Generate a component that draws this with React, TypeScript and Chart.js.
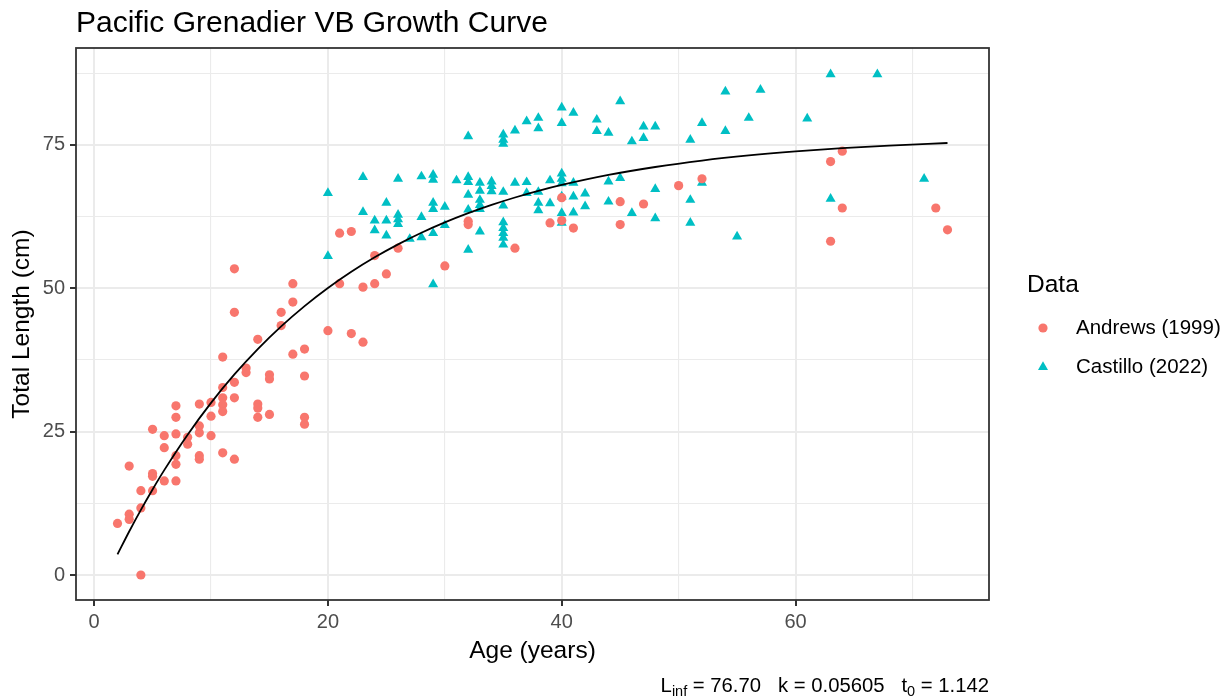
import React, { useEffect, useRef } from "react";
import { Chart, registerables } from "chart.js";

Chart.register(...registerables);

const FONT = '"Liberation Sans", Arial, Helvetica, sans-serif';

const titleText = "Pacific Grenadier VB Growth Curve";
const xAxisTitle = "Age (years)";
const yAxisTitle = "Total Length (cm)";
const legendTitle = "Data";
const seriesNames = ["Andrews (1999)", "Castillo (2022)"];
const seriesColors = ["#F8766D", "#00BFC4"];

// [age (years), total length (cm)]
const andrews: [number, number][] = [
  [2, 9.0],
  [3, 19.0], [3, 10.6], [3, 9.7],
  [4, 14.7], [4, 11.7], [4, 0],
  [5, 25.4], [5, 17.7], [5, 17.2], [5, 14.7],
  [6, 24.3], [6, 22.2], [6, 16.4],
  [7, 29.5], [7, 27.5], [7, 24.6], [7, 20.8], [7, 19.3], [7, 16.4],
  [8, 24.0], [8, 22.8],
  [9, 29.8], [9, 26.0], [9, 24.8], [9, 20.8], [9, 20.2],
  [10, 30.1], [10, 27.7], [10, 24.3],
  [11, 38.0], [11, 32.7], [11, 30.9], [11, 29.7], [11, 28.5], [11, 21.3],
  [12, 53.4], [12, 45.8], [12, 33.6], [12, 30.9], [12, 20.2],
  [13, 36.1], [13, 35.3],
  [14, 41.1], [14, 29.8], [14, 29.1], [14, 27.5],
  [15, 34.9], [15, 34.2], [15, 28.0],
  [16, 45.8], [16, 43.5],
  [17, 50.8], [17, 47.6], [17, 38.5],
  [18, 39.4], [18, 34.7], [18, 27.5], [18, 26.3],
  [20, 42.6],
  [21, 59.6], [21, 50.8],
  [22, 59.9], [22, 42.1],
  [23, 50.2], [23, 40.6],
  [24, 55.7], [24, 50.8],
  [25, 52.5],
  [26, 57.0],
  [30, 53.9],
  [32, 61.7], [32, 61.1],
  [36, 57.0],
  [39, 61.4],
  [40, 65.8], [40, 61.8],
  [41, 60.5],
  [45, 65.1], [45, 61.1],
  [47, 64.7],
  [50, 67.9],
  [52, 69.1],
  [63, 72.1], [63, 58.2],
  [64, 73.9], [64, 64.0],
  [72, 64.0],
  [73, 60.2],
];

const castillo: [number, number][] = [
  [20, 66.6], [20, 55.6],
  [23, 69.4], [23, 63.3],
  [24, 61.8], [24, 60.1],
  [25, 64.9], [25, 61.8], [25, 59.2],
  [26, 69.1], [26, 62.8], [26, 62.0], [26, 61.2],
  [27, 58.6],
  [28, 69.5], [28, 62.4], [28, 58.9],
  [29, 69.8], [29, 68.9], [29, 64.9], [29, 63.8], [29, 59.6], [29, 50.7],
  [30, 64.2], [30, 61.0],
  [31, 68.8],
  [32, 76.5], [32, 69.4], [32, 68.5], [32, 66.3], [32, 63.7], [32, 56.7],
  [33, 68.4], [33, 67.0], [33, 65.4], [33, 64.5], [33, 63.8], [33, 59.9],
  [34, 68.6], [34, 67.8], [34, 66.9],
  [35, 76.8], [35, 75.9], [35, 75.2], [35, 66.8], [35, 64.4], [35, 61.5], [35, 60.5], [35, 59.6], [35, 58.8], [35, 57.6],
  [36, 77.5], [36, 68.4],
  [37, 79.1], [37, 68.5], [37, 66.6],
  [38, 79.7], [38, 77.9], [38, 66.8], [38, 64.9], [38, 63.6],
  [39, 68.8], [39, 64.8],
  [40, 81.5], [40, 78.8], [40, 70.0], [40, 69.1], [40, 68.3], [40, 66.0], [40, 63.1], [40, 61.4],
  [41, 80.6], [41, 68.4], [41, 66.0], [41, 63.2],
  [42, 66.5], [42, 64.3],
  [43, 79.4], [43, 77.4],
  [44, 77.1], [44, 68.6], [44, 65.1],
  [45, 82.6], [45, 69.2],
  [46, 75.6], [46, 63.1],
  [47, 78.2], [47, 76.2],
  [48, 78.2], [48, 67.3], [48, 62.2],
  [51, 75.9], [51, 65.4], [51, 61.4],
  [52, 78.8], [52, 68.4],
  [54, 84.3], [54, 77.4],
  [55, 59.0],
  [56, 79.7],
  [57, 84.6],
  [61, 79.6],
  [63, 87.3], [63, 65.6],
  [67, 87.3],
  [71, 69.1],
];

// fitted von Bertalanffy curve
const curveAge = [2, 3, 4, 5, 6, 8, 10, 12, 14, 16, 18, 20, 22, 24, 26, 28, 30, 32, 34, 36, 38, 40, 44, 48, 52, 56, 60, 64, 68, 73];
const curveLength = [3.6, 7.59, 11.36, 14.92, 18.29, 24.47, 30.01, 34.97, 39.39, 43.35, 46.89, 50.05, 52.88, 55.4, 57.66, 59.68, 61.48, 63.09, 64.54, 65.83, 66.98, 68.01, 69.76, 71.15, 72.27, 73.16, 73.87, 74.44, 74.89, 75.33];

const xMajorTicks = [0, 20, 40, 60];
const xMinorTicks = [10, 30, 50, 70];
const yMajorTicks = [0, 25, 50, 75];
const yMinorTicks = [12.5, 37.5, 62.5, 87.5];
const xRange = [-1.55, 76.55];
const yRange = [-4.36, 91.9];

const captionParts: { text: string; sub: boolean }[] = [
  { text: "L", sub: false },
  { text: "inf", sub: true },
  { text: " = 76.70   k = 0.05605   t", sub: false },
  { text: "0", sub: true },
  { text: " = 1.142", sub: false },
];

const GRID = "#EBEBEB";
const DARK = "#333333";

function tickSet(major: number[], minor: number[]) {
  return [...major, ...minor].sort((a, b) => a - b).map((v) => ({ value: v }));
}

const decorPlugin = {
  id: "decor",
  afterDatasetsDraw(chart: any) {
    const { ctx, chartArea: a } = chart;
    ctx.save();
    ctx.strokeStyle = DARK;
    ctx.lineWidth = 1.8;
    ctx.strokeRect(a.left, a.top, a.right - a.left, a.bottom - a.top);
    ctx.restore();
  },
  afterDraw(chart: any) {
    const ctx: CanvasRenderingContext2D = chart.ctx;
    ctx.save();
    // legend
    ctx.fillStyle = "#000000";
    ctx.textAlign = "left";
    ctx.textBaseline = "middle";
    ctx.font = `24.5px ${FONT}`;
    ctx.fillText(legendTitle, 1027, 285);
    ctx.font = `20.5px ${FONT}`;
    const keyX = 1043;
    const keyY = [328, 367];
    ctx.fillStyle = seriesColors[0];
    ctx.beginPath();
    ctx.arc(keyX, keyY[0], 4.6, 0, Math.PI * 2);
    ctx.fill();
    ctx.fillStyle = seriesColors[1];
    const r = 5.8;
    ctx.beginPath();
    for (let i = 0; i < 3; i++) {
      const ang = (i * 2 * Math.PI) / 3;
      const px = keyX + Math.sin(ang) * r;
      const py = keyY[1] - Math.cos(ang) * r;
      if (i === 0) ctx.moveTo(px, py);
      else ctx.lineTo(px, py);
    }
    ctx.closePath();
    ctx.fill();
    ctx.fillStyle = "#000000";
    ctx.fillText(seriesNames[0], 1076, keyY[0]);
    ctx.fillText(seriesNames[1], 1076, keyY[1]);

    // caption (right aligned to panel edge)
    const mainFont = `20.3px ${FONT}`;
    const subFont = `14.5px ${FONT}`;
    ctx.textBaseline = "alphabetic";
    let total = 0;
    const widths = captionParts.map((p) => {
      ctx.font = p.sub ? subFont : mainFont;
      const w = ctx.measureText(p.text).width;
      total += w;
      return w;
    });
    let x = chart.chartArea.right - total;
    const base = 692;
    captionParts.forEach((p, i) => {
      ctx.font = p.sub ? subFont : mainFont;
      ctx.fillText(p.text, x, p.sub ? base + 4 : base);
      x += widths[i];
    });
    ctx.restore();
  },
};

export default function App() {
  const canvasRef = useRef<HTMLCanvasElement | null>(null);

  useEffect(() => {
    const canvas = canvasRef.current;
    if (!canvas) return;
    const isXMajor = (v: number) => xMajorTicks.includes(v);
    const isYMajor = (v: number) => yMajorTicks.includes(v);

    const chart = new Chart(canvas, {
      type: "scatter",
      data: {
        datasets: [
          {
            label: "VB fit",
            data: curveAge.map((a, i) => ({ x: a, y: curveLength[i] })),
            showLine: true,
            borderColor: "#000000",
            borderWidth: 1.8,
            pointRadius: 0,
            cubicInterpolationMode: "monotone",
            fill: false,
          } as any,
          {
            label: seriesNames[0],
            data: andrews.map(([a, l]) => ({ x: a, y: l })),
            pointStyle: "circle",
            pointRadius: 4.6,
            pointBackgroundColor: seriesColors[0],
            pointBorderColor: seriesColors[0],
            pointBorderWidth: 0,
          },
          {
            label: seriesNames[1],
            data: castillo.map(([a, l]) => ({ x: a, y: l })),
            pointStyle: "triangle",
            pointRadius: 5.8,
            pointBackgroundColor: seriesColors[1],
            pointBorderColor: seriesColors[1],
            pointBorderWidth: 0,
          },
        ],
      },
      options: {
        animation: false,
        responsive: false,
        devicePixelRatio: 1,
        events: [],
        layout: { padding: { left: 0, top: 0, right: 241, bottom: 0 } },
        plugins: {
          legend: { display: false },
          tooltip: { enabled: false },
          title: {
            display: true,
            text: titleText,
            align: "start",
            fullSize: false,
            color: "#000000",
            font: { family: FONT, size: 30, weight: "normal", lineHeight: 1.2 },
            padding: { top: 6, bottom: 6 },
          },
        },
        scales: {
          x: {
            type: "linear",
            min: xRange[0],
            max: xRange[1],
            afterBuildTicks: (scale: any) => {
              scale.ticks = tickSet(xMajorTicks, xMinorTicks);
            },
            afterFit: (scale: any) => {
              scale.height = 98;
            },
            ticks: {
              autoSkip: false,
              maxRotation: 0,
              padding: 4,
              color: "#4D4D4D",
              font: { family: FONT, size: 20 },
              callback: (v: any) => (isXMajor(Number(v)) ? String(v) : ""),
            },
            grid: {
              color: GRID,
              lineWidth: (c: any) => (c.tick && isXMajor(c.tick.value) ? 2 : 1.1),
              drawTicks: true,
              tickLength: 6,
              tickWidth: 2,
              tickColor: (c: any) => (c.tick && isXMajor(c.tick.value) ? DARK : "rgba(0,0,0,0)"),
            },
            border: { display: false },
            title: {
              display: true,
              text: xAxisTitle,
              color: "#000000",
              font: { family: FONT, size: 24.5, lineHeight: 1.2 },
              padding: { top: 0, bottom: 32.3 },
            },
          },
          y: {
            type: "linear",
            min: yRange[0],
            max: yRange[1],
            afterBuildTicks: (scale: any) => {
              scale.ticks = tickSet(yMajorTicks, yMinorTicks);
            },
            afterFit: (scale: any) => {
              scale.width = 76;
            },
            ticks: {
              autoSkip: false,
              padding: 5,
              color: "#4D4D4D",
              font: { family: FONT, size: 20 },
              callback: (v: any) => (isYMajor(Number(v)) ? String(v) : ""),
            },
            grid: {
              color: GRID,
              lineWidth: (c: any) => (c.tick && isYMajor(c.tick.value) ? 2 : 1.1),
              drawTicks: true,
              tickLength: 6,
              tickWidth: 2,
              tickColor: (c: any) => (c.tick && isYMajor(c.tick.value) ? DARK : "rgba(0,0,0,0)"),
            },
            border: { display: false },
            title: {
              display: true,
              text: yAxisTitle,
              color: "#000000",
              font: { family: FONT, size: 24.5, lineHeight: 1.2 },
              padding: { top: 7.3, bottom: 0 },
            },
          },
        },
      },
      plugins: [decorPlugin],
    });

    return () => {
      chart.destroy();
    };
  }, []);

  return (
    <div
      style={{
        position: "absolute",
        left: 0,
        top: 0,
        width: 1230,
        height: 698,
        background: "#ffffff",
      }}
    >
      <canvas ref={canvasRef} width={1230} height={698} style={{ display: "block" }} />
    </div>
  );
}
